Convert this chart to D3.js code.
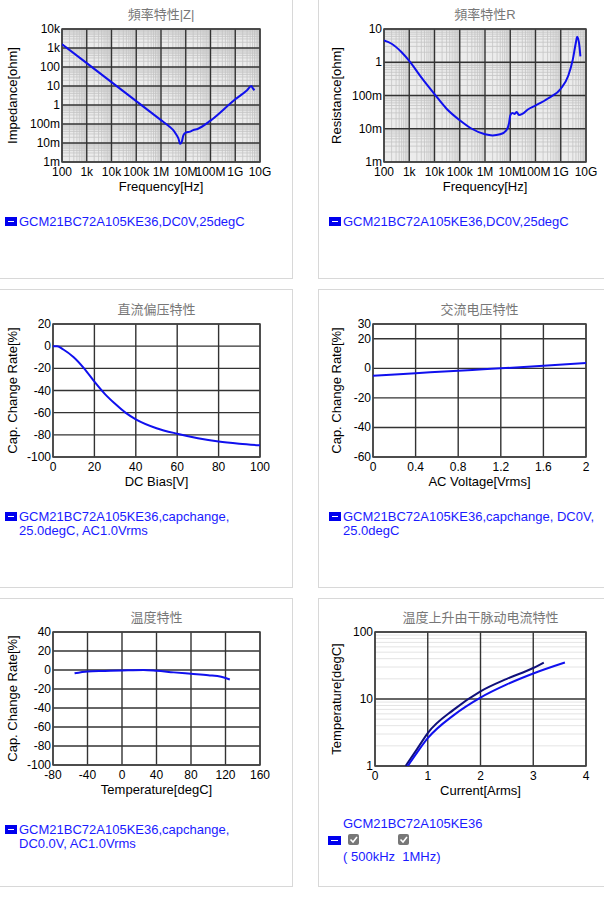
<!DOCTYPE html>
<html><head><meta charset="utf-8">
<script src="https://cdn.jsdelivr.net/npm/d3@7"></script>
<style>body{margin:0;background:#fff;font-family:Arial,"Liberation Sans","Noto Sans CJK SC",sans-serif}</style>
</head><body><svg id="c" width="604" height="903"></svg>
<script>
// impedance |Z| [Hz, ohm]
var zFreq = [100,1e3,1e4,1e5,1e6,2e6,3e6,4e6,5e6,6e6,7e6,8e6,1e7,1.5e7,2e7,3e7,1e8,1e9,3e9,4.5e9,5e9,6e9];
var zVal = [1600,160,16,1.6,0.16,0.08,0.05,0.03,0.018,0.009,0.012,0.025,0.035,0.04,0.048,0.055,0.15,2,6,10,8,6];
// resistance R
var rFreq = [100,200,500,1e3,3e3,1e4,3e4,1e5,3e5,1e6,2e6,4e6,7e6,9e6,1e7,1.2e7,1.5e7,1.8e7,2.2e7,3e7,5e7,1e8,3e8,1e9,2e9,3e9,4e9,4.5e9,5.5e9,6e9];
var rVal = [4.5,3.6,2,1.1,0.35,0.11,0.04,0.018,0.01,0.0068,0.0063,0.0068,0.009,0.015,0.025,0.03,0.028,0.032,0.026,0.028,0.038,0.05,0.08,0.16,0.4,1.2,4,5.8,3,1.5];
// DC bias
var dcV = [0,2,5,10,15,20,25,30,35,40,50,60,70,80,90,100];
var dcRate = [0,0,-3,-10,-20,-32,-43,-52,-60,-66,-74,-79,-83,-86,-88,-89.5];
// AC voltage
var acV = [0,0.4,0.8,1.0,1.2,1.6,2.0];
var acRate = [-5,-3.3,-1.6,-0.8,0,1.7,3.6];
// temperature
var tC = [-55,-40,-20,0,25,40,60,80,100,115,125];
var tRate = [-3.5,-1.5,-1,-0.5,0,-0.8,-2.5,-4,-5.5,-7,-10];
// ripple current heating
var iA500k = [0.58,0.8,1,1.5,2,2.5,3,3.2];
var dT500k = [1,1.8,3.1,7,13,20,29,35];
var iA1M = [0.62,0.8,1,1.5,2,2.5,3,3.6];
var dT1M = [1,1.6,2.6,5.8,10.5,16.5,24,35];

var logTicks = ["100","1k","10k","100k","1M","10M","100M","1G","10G"];
var svg = d3.select("#c");

// panel frames
[[-1,-1,293,279],[318,-1,290,279],[-1,289,293,298],[318,289,290,298],[-1,598,293,288],[318,598,290,288]].forEach(function(p){
  svg.append("rect").attr("x",p[0]+0.5).attr("y",p[1]+0.5).attr("width",p[2]).attr("height",p[3])
    .attr("fill","none").attr("stroke","#d8d8d8");
});

function fmtSI(v){
  var m = {"-3":"m","0":"","3":"k"}; var e = Math.round(Math.log10(v));
  var b = Math.floor(e/3)*3; return Math.pow(10,e-b)+(m[b]);
}

function panel(o){
  var g = svg.append("g");
  g.append("text").attr("x",(o.x0+o.x1)/2).attr("y",o.y0-10).attr("text-anchor","middle")
    .attr("font-size",13).attr("fill","#777").text(o.title);
  var x = o.xlog ? d3.scaleLog().domain(o.xd).range([o.x0,o.x1]) : d3.scaleLinear().domain(o.xd).range([o.x0,o.x1]);
  var y = o.ylog ? d3.scaleLog().domain(o.yd).range([o.y1,o.y0]) : d3.scaleLinear().domain(o.yd).range([o.y1,o.y0]);
  g.append("rect").attr("x",o.x0).attr("y",o.y0).attr("width",o.x1-o.x0).attr("height",o.y1-o.y0)
    .attr("fill",o.xlog ? "#ececec" : "#fff");
  // minor grid
  function minors(sc){ var out=[], d=sc.domain(); for(var e=Math.log10(d[0]);e<Math.log10(d[1])-1e-9;e++){for(var k=2;k<10;k++)out.push(k*Math.pow(10,e));} return out; }
  if (o.xlog) g.selectAll(null).data(minors(x)).enter().append("line")
    .attr("x1",function(d){return x(d);}).attr("x2",function(d){return x(d);}).attr("y1",o.y0).attr("y2",o.y1)
    .attr("stroke","#c4c4c4").attr("stroke-width",0.8);
  if (o.ylog) g.selectAll(null).data(minors(y)).enter().append("line")
    .attr("y1",function(d){return y(d);}).attr("y2",function(d){return y(d);}).attr("x1",o.x0).attr("x2",o.x1)
    .attr("stroke",o.xlog ? "#c4c4c4" : "#ddd").attr("stroke-width",0.8);
  // major grid
  g.selectAll(null).data(o.xt).enter().append("line")
    .attr("x1",function(d){return x(d);}).attr("x2",function(d){return x(d);}).attr("y1",o.y0).attr("y2",o.y1)
    .attr("stroke","#333").attr("stroke-width",1.4);
  g.selectAll(null).data(o.yt).enter().append("line")
    .attr("y1",function(d){return y(d);}).attr("y2",function(d){return y(d);}).attr("x1",o.x0).attr("x2",o.x1)
    .attr("stroke","#333").attr("stroke-width",1.4);
  g.append("rect").attr("x",o.x0).attr("y",o.y0).attr("width",o.x1-o.x0).attr("height",o.y1-o.y0)
    .attr("fill","none").attr("stroke","#444").attr("stroke-width",1.5);
  // tick labels
  g.selectAll(null).data(o.xt).enter().append("text").attr("x",function(d){return x(d);}).attr("y",o.y1+14)
    .attr("text-anchor","middle").attr("font-size",12).text(function(d,i){return o.xl ? o.xl[i] : d;});
  g.selectAll(null).data(o.yt).enter().append("text").attr("x",o.x0-2).attr("y",function(d){return y(d)+4;})
    .attr("text-anchor","end").attr("font-size",12).text(function(d){return o.ylog && o.si ? fmtSI(d) : d;});
  g.append("text").attr("x",(o.x0+o.x1)/2).attr("y",o.y1+29).attr("text-anchor","middle").attr("font-size",13).text(o.xlab);
  g.append("text").attr("transform","translate("+(o.ylx)+","+((o.y0+o.y1)/2)+") rotate(-90)")
    .attr("text-anchor","middle").attr("font-size",13).text(o.ylab);
  var clip = "cl"+o.x0+"_"+o.y0;
  g.append("clipPath").attr("id",clip).append("rect").attr("x",o.x0).attr("y",o.y0).attr("width",o.x1-o.x0).attr("height",o.y1-o.y0);
  o.series.forEach(function(s){
    g.append("path").attr("clip-path","url(#"+clip+")").attr("fill","none").attr("stroke",s.c).attr("stroke-width",2)
      .attr("d",d3.line().curve(d3.curveMonotoneX).x(function(d){return x(d[0]);}).y(function(d){return y(d[1]);})(d3.zip(s.x,s.y)));
  });
  // legend
  var ly = o.ly;
  g.append("rect").attr("x",o.lx).attr("y",ly-9).attr("width",12).attr("height",9).attr("fill","#0000ee");
  g.append("line").attr("x1",o.lx+3).attr("x2",o.lx+9).attr("y1",ly-4.5).attr("y2",ly-4.5).attr("stroke","#fff");
  o.legend.forEach(function(t,i){
    g.append("text").attr("x",o.lx+14).attr("y",ly+i*14).attr("font-size",13).attr("fill","#1a1aff").text(t);
  });
}

var decades = [1e2,1e3,1e4,1e5,1e6,1e7,1e8,1e9,1e10];
panel({title:"頻率特性|Z|",x0:62,x1:260,y0:29,y1:162,xlog:true,ylog:true,si:true,xd:[1e2,1e10],yd:[1e-3,1e4],
  xt:decades,xl:logTicks,yt:[1e-3,1e-2,1e-1,1,10,100,1e3,1e4],xlab:"Frequency[Hz]",ylab:"Impedance[ohm]",ylx:17,
  series:[{x:zFreq,y:zVal,c:"#1010ee"}],lx:5,ly:226,legend:["GCM21BC72A105KE36,DC0V,25degC"]});
panel({title:"頻率特性R",x0:384,x1:586,y0:29,y1:162,xlog:true,ylog:true,si:true,xd:[1e2,1e10],yd:[1e-3,10],
  xt:decades,xl:logTicks,yt:[1e-3,1e-2,1e-1,1,10],xlab:"Frequency[Hz]",ylab:"Resistance[ohm]",ylx:341,
  series:[{x:rFreq,y:rVal,c:"#1010ee"}],lx:329,ly:226,legend:["GCM21BC72A105KE36,DC0V,25degC"]});
panel({title:"直流偏压特性",x0:53,x1:260,y0:324,y1:457,xd:[0,100],yd:[-100,20],
  xt:[0,20,40,60,80,100],yt:[-100,-80,-60,-40,-20,0,20],xlab:"DC Bias[V]",ylab:"Cap. Change Rate[%]",ylx:17,
  series:[{x:dcV,y:dcRate,c:"#1010ee"}],lx:5,ly:521,legend:["GCM21BC72A105KE36,capchange,","25.0degC, AC1.0Vrms"]});
panel({title:"交流电压特性",x0:373,x1:586,y0:324,y1:457,xd:[0,2],yd:[-60,30],
  xt:[0,0.4,0.8,1.2,1.6,2],yt:[-60,-40,-20,0,20,30],xlab:"AC Voltage[Vrms]",ylab:"Cap. Change Rate[%]",ylx:341,
  series:[{x:acV,y:acRate,c:"#1010ee"}],lx:329,ly:521,legend:["GCM21BC72A105KE36,capchange, DC0V,","25.0degC"]});
panel({title:"温度特性",x0:53,x1:260,y0:632,y1:765,xd:[-80,160],yd:[-100,40],
  xt:[-80,-40,0,40,80,120,160],yt:[-100,-80,-60,-40,-20,0,20,40],xlab:"Temperature[degC]",ylab:"Cap. Change Rate[%]",ylx:17,
  series:[{x:tC,y:tRate,c:"#1010ee"}],lx:5,ly:834,legend:["GCM21BC72A105KE36,capchange,","DC0.0V, AC1.0Vrms"]});
panel({title:"温度上升由干脉动电流特性",x0:375,x1:586,y0:632,y1:766,ylog:true,xd:[0,4],yd:[1,100],
  xt:[0,1,2,3,4],yt:[1,10,100],xlab:"Current[Arms]",ylab:"Temperature[degC]",ylx:341,
  series:[{x:iA500k,y:dT500k,c:"#10107a"},{x:iA1M,y:dT1M,c:"#1010ee"}],lx:-100,ly:-100,legend:[]});

// legend of last panel
svg.append("text").attr("x",343).attr("y",828).attr("font-size",13).attr("fill","#1a1aff").text("GCM21BC72A105KE36");
svg.append("rect").attr("x",328).attr("y",836).attr("width",13).attr("height",9).attr("fill","#0000ee");
svg.append("line").attr("x1",331).attr("x2",338).attr("y1",840.5).attr("y2",840.5).attr("stroke","#fff");
[348,398].forEach(function(cx){
  svg.append("rect").attr("x",cx).attr("y",834).attr("width",11).attr("height",11).attr("rx",2).attr("fill","#777");
  svg.append("path").attr("d","M"+(cx+2.5)+",839.5 l2.5,2.5 l4,-5").attr("fill","none").attr("stroke","#fff").attr("stroke-width",1.6);
});
svg.append("text").attr("x",343).attr("y",861).attr("font-size",13).attr("fill","#1a1aff").text("(\u00a0500kHz\u00a0\u00a01MHz)");
</script></body></html>
